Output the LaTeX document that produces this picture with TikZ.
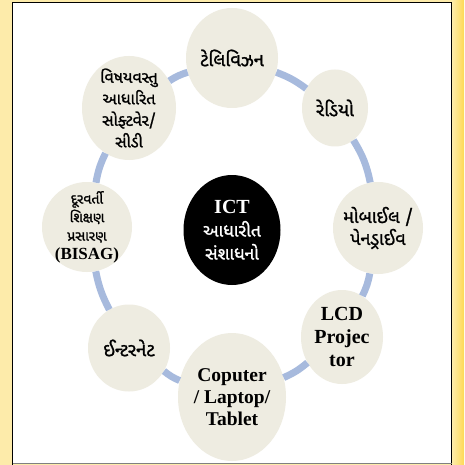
\documentclass[tikz,border=0pt]{standalone}
\usepackage{fontspec}
\setmainfont{Liberation Serif}
\newfontfamily\guj[Script=Gujarati, AutoFakeBold=1.2]{Noto Sans Gujarati UI}
\usepackage{xcolor}
\usepackage{tikz}
\usetikzlibrary{arrows.meta, calc, shapes.geometric}

\definecolor{discfill}{HTML}{EEECE1}
\definecolor{linkblue}{HTML}{A7BADD}
\definecolor{paleyellow}{HTML}{FDEBAA}
\definecolor{brightyellow}{HTML}{FED955}

\newcommand{\gsize}[2]{\guj\bfseries\fontsize{#1}{#2}\selectfont}

\begin{document}
\begin{tikzpicture}[x=1pt, y=-1pt,
    disc/.style={ellipse, fill=discfill, inner sep=0pt},
    hub/.style={ellipse, fill=black, inner sep=0pt},
    gtext/.style={align=center, font=\gsize{17}{21.5}},
    etext/.style={align=center, font=\bfseries\fontsize{20}{23}\selectfont},
    link/.style={draw=linkblue, line width=7pt}
]
\useasboundingbox (0,0) rectangle (464,465);

% frame
\fill[paleyellow] (0,0) rectangle (464,465);
\shade[left color=paleyellow, right color=brightyellow] (452,0) rectangle (464,465);
\fill[white] (12.5,2.5) rectangle (451.5,463.5);
\draw[line width=1.6pt] (12.5,465) -- (12.5,2.5) -- (451.5,2.5) -- (451.5,465);
\draw[gray, line width=1.2pt] (12.5,463.5) -- (451.5,463.5);

\begin{scope}[every node/.style={}]
    % ring
    \node[disc, minimum width=92, minimum height=100] (TV) at (232,58) {};
    \node[disc, minimum width=66, minimum height=77] (Radio) at (335,108) {};
    \node[disc, minimum width=90, minimum height=92] (Mobile) at (378,228) {};
    \node[disc, minimum width=82, minimum height=94] (LCD) at (342,337) {};
    \node[disc, minimum width=108, minimum height=128] (PC) at (232,397) {};
    \node[disc, minimum width=82, minimum height=87] (Net) at (129,348) {};
    \node[disc, minimum width=90, minimum height=90] (Dist) at (87,227) {};
    \node[disc, minimum width=94, minimum height=104] (Soft) at (129,108) {};
    % centre
    \node[hub, minimum width=97, minimum height=110] (ICT) at (232,230) {};
\end{scope}

\begin{scope}[every edge/.style={link}]
    \path (Soft) edge[bend left=8] (TV);
    \path (TV) edge[bend left=8] (Radio);
    \path (Radio) edge[bend left=10] (Mobile);
    \path (Mobile) edge[bend left=8] (LCD);
    \path (LCD) edge[bend left=8] (PC);
    \path (PC) edge[bend left=8] (Net);
    \path (Net) edge[bend left=8] (Dist);
    \path (Dist) edge[bend left=8] (Soft);
\end{scope}

% labels
\node[gtext, font=\gsize{18.5}{21.5}] (TV-t) at (TV) {ટેલિવિઝન};
\node[gtext, font=\gsize{18.5}{21.5}] (Radio-t) at (Radio) {રેડિયો};
\node[gtext, font=\gsize{18}{22}] (Mobile-t) at (Mobile) {મોબાઈલ /\\પેનડ્રાઈવ};
\node[etext] (LCD-t) at (LCD) {LCD\\Projec\\tor};
\node[etext, font=\bfseries\fontsize{19.5}{22}\selectfont] (PC-t) at (PC) {Coputer\\/ Laptop/\\Tablet};
\node[gtext, font=\gsize{18.5}{21.5}] (Net-t) at (Net) {ઈન્ટરનેટ};
\node[align=center, font=\gsize{14}{18.5}] (Dist-t) at (Dist)
    {દૂરવર્તી\\શિક્ષણ\\પ્રસારણ\\{\rmfamily\bfseries\fontsize{17}{18.5}\selectfont (BISAG)}};
\node[gtext, font=\gsize{16}{21.5}] (Soft-t) at (Soft) {વિષયવસ્તુ\\આધારિત\\સોફ્ટવેર/\\સીડી};
\node[align=center, text=white, font=\gsize{17.5}{23}] (ICT-t) at (ICT)
    {{\rmfamily\bfseries\fontsize{20}{23}\selectfont ICT}\\આધારીત\\સંશાધનો};
\end{tikzpicture}
\end{document}
